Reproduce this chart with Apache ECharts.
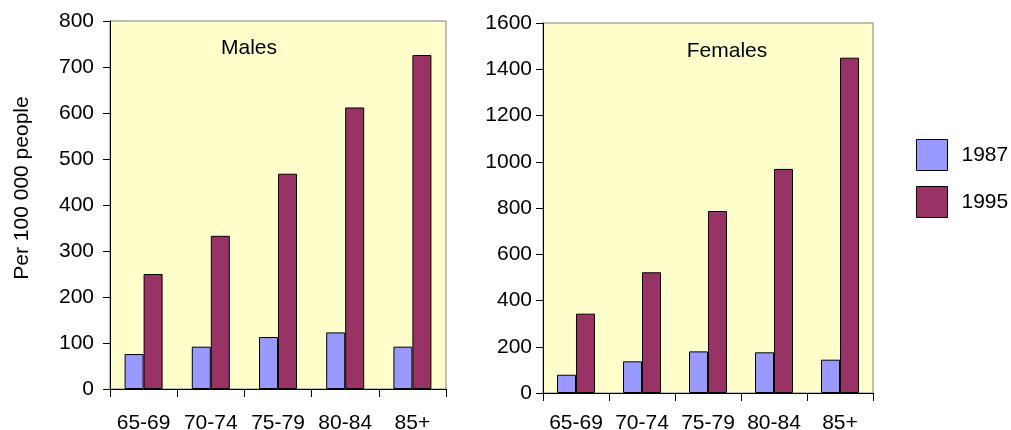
<!DOCTYPE html>
<html>
<head>
<meta charset="utf-8">
<script src="https://cdn.jsdelivr.net/npm/echarts@6/dist/echarts.min.js"></script>
<style>
  html, body { margin: 0; padding: 0; background: #ffffff; }
  #chart { width: 1011px; height: 430px; }
</style>
</head>
<body>
<div id="chart"></div>
<script>
// Age groups on the horizontal axis
const ageGroups = ['65-69', '70-74', '75-79', '80-84', '85+'];

// Rates per 100 000 people
const males1987 = [76, 92, 113, 123, 92];
const males1995 = [250, 333, 468, 612, 726];
const females1987 = [79, 137, 180, 176, 144];
const females1995 = [343, 522, 787, 969, 1450];

const yearNames = ['1987', '1995'];
const panelTitles = ['Males', 'Females'];
const yAxisName = 'Per 100 000 people';

const FONT = '"Liberation Sans", Arial, sans-serif';
const C87 = '#9999FF';
const C95 = '#993366';

const chart = echarts.init(document.getElementById('chart'), null, { renderer: 'canvas' });

function xAxis(gridIndex, margin) {
  return {
    type: 'category',
    gridIndex: gridIndex,
    data: ageGroups,
    boundaryGap: true,
    axisLine: { show: true, lineStyle: { color: '#000000', width: 1 } },
    axisTick: { show: true, length: 8, alignWithLabel: false, lineStyle: { color: '#000000' } },
    axisLabel: { color: '#000000', fontFamily: FONT, fontSize: 21, margin: margin, interval: 0 },
    splitLine: { show: false }
  };
}

function yAxis(gridIndex, max, interval, margin, name) {
  return {
    type: 'value',
    gridIndex: gridIndex,
    min: 0,
    max: max,
    interval: interval,
    name: name || '',
    nameLocation: 'middle',
    nameGap: 77,
    nameTextStyle: { color: '#000000', fontFamily: FONT, fontSize: 21, padding: [0, 0, 0, 34] },
    axisLine: { show: true, lineStyle: { color: '#000000', width: 1 } },
    axisTick: { show: true, length: 7, inside: false, lineStyle: { color: '#000000' } },
    axisLabel: { color: '#000000', fontFamily: FONT, fontSize: 21, margin: margin,
                 formatter: v => String(v) },
    splitLine: { show: false }
  };
}

function bars(name, data, idx, color) {
  return {
    name: name,
    type: 'bar',
    xAxisIndex: idx,
    yAxisIndex: idx,
    data: data,
    barWidth: 19,
    barGap: '0%',
    itemStyle: { color: color, borderColor: '#000000', borderWidth: 1 },
    emphasis: { disabled: true },
    animation: false
  };
}

chart.setOption({
  animation: false,
  backgroundColor: '#ffffff',
  title: [
    { text: panelTitles[0], left: 244, top: 33, textAlign: 'center',
      textStyle: { color: '#000000', fontFamily: FONT, fontSize: 21, fontWeight: 'normal' } },
    { text: panelTitles[1], left: 722, top: 36, textAlign: 'center',
      textStyle: { color: '#000000', fontFamily: FONT, fontSize: 21, fontWeight: 'normal' } }
  ],
  legend: {
    data: yearNames.map(n => ({ name: n, icon: 'rect' })),
    orient: 'vertical',
    left: 916,
    top: 139,
    padding: 0,
    itemWidth: 31,
    itemHeight: 31,
    itemGap: 15,
    textStyle: { color: '#000000', fontFamily: FONT, fontSize: 21, padding: [0, 0, 0, 9] },
    itemStyle: { borderColor: '#000000', borderWidth: 1 },
    selectedMode: false
  },
  grid: [
    { left: 110, top: 21, width: 336, height: 368, show: true, outerBoundsMode: 'none',
      containLabel: false,
      backgroundColor: '#FFFFCC', borderColor: '#7f7f7f', borderWidth: 1 },
    { left: 543, top: 23, width: 330, height: 370, show: true, outerBoundsMode: 'none',
      containLabel: false,
      backgroundColor: '#FFFFCC', borderColor: '#7f7f7f', borderWidth: 1 }
  ],
  xAxis: [xAxis(0, 24), xAxis(1, 20)],
  yAxis: [yAxis(0, 800, 100, 16, yAxisName), yAxis(1, 1600, 200, 11)],
  series: [
    bars(yearNames[0], males1987, 0, C87),
    bars(yearNames[1], males1995, 0, C95),
    bars(yearNames[0], females1987, 1, C87),
    bars(yearNames[1], females1995, 1, C95)
  ]
});
</script>
</body>
</html>
